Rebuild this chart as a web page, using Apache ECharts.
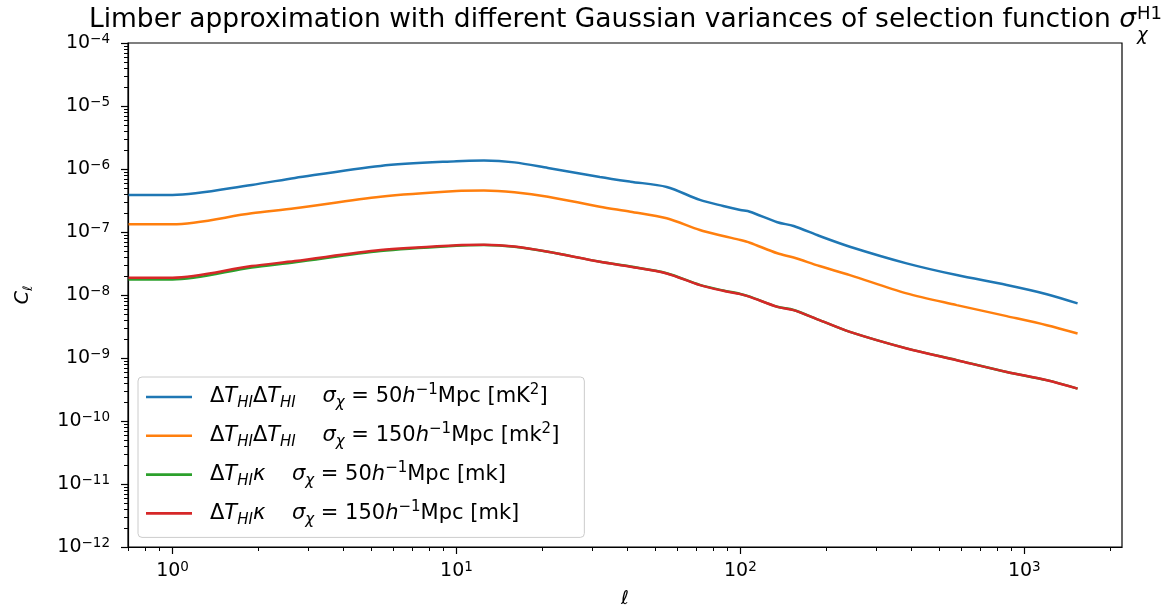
<!DOCTYPE html>
<html><head><meta charset="utf-8">
<script src="https://cdn.jsdelivr.net/npm/echarts@6/dist/echarts.min.js"></script>
<style>html,body{margin:0;padding:0;background:#fff}#c{width:1169px;height:605px}</style>
</head><body><div id="c"></div>
<script>
// multipole values
const ell = [0.7, 1, 1.9, 2.7, 5.4, 10, 12.5, 16, 21, 32, 41, 55, 72, 87, 100, 108, 135, 154, 190, 243, 385, 578, 867, 1200, 1540];
// Delta T_HI Delta T_HI, sigma_chi = 50 h^-1 Mpc [mK^2]
const clTT50 = [3.87e-7, 3.87e-7, 5.59e-7, 7.22e-7, 1.12e-6, 1.33e-6, 1.36e-6, 1.274e-6, 1.04e-6, 7.49e-7, 6.30e-7, 5.19e-7, 3.23e-7, 2.59e-7, 2.24e-7, 2.10e-7, 1.43e-7, 1.245e-7, 8.64e-8, 5.84e-8, 3.18e-8, 2.07e-8, 1.44e-8, 1.03e-8, 7.35e-9];
// Delta T_HI Delta T_HI, sigma_chi = 150 h^-1 Mpc [mk^2]
const clTT150 = [1.326e-7, 1.326e-7, 1.98e-7, 2.38e-7, 3.64e-7, 4.49e-7, 4.57e-7, 4.28e-7, 3.64e-7, 2.52e-7, 2.10e-7, 1.65e-7, 1.076e-7, 8.64e-8, 7.46e-8, 6.76e-8, 4.59e-8, 3.93e-8, 2.88e-8, 2.07e-8, 1.06e-8, 6.91e-9, 4.62e-9, 3.32e-9, 2.45e-9];
// Delta T_HI kappa, sigma_chi = 50 h^-1 Mpc [mk]
const clTk50 = [1.757e-8, 1.757e-8, 2.73e-8, 3.30e-8, 5.0e-8, 6.07e-8, 6.2e-8, 5.85e-8, 4.84e-8, 3.37e-8, 2.83e-8, 2.22e-8, 1.45e-8, 1.18e-8, 1.04e-8, 9.40e-9, 6.5e-9, 5.78e-9, 4.0e-9, 2.6e-9, 1.42e-9, 9.25e-10, 6.0e-10, 4.45e-10, 3.27e-10];
// Delta T_HI kappa, sigma_chi = 150 h^-1 Mpc [mk]
const clTk150 = [1.877e-8, 1.877e-8, 2.88e-8, 3.46e-8, 5.17e-8, 6.15e-8, 6.26e-8, 5.88e-8, 4.86e-8, 3.37e-8, 2.81e-8, 2.20e-8, 1.437e-8, 1.166e-8, 1.033e-8, 9.36e-9, 6.49e-9, 5.75e-9, 3.99e-9, 2.60e-9, 1.416e-9, 9.23e-10, 6.01e-10, 4.44e-10, 3.27e-10];

const seriesNames = [
  'ΔT_HI ΔT_HI  σ_χ = 50h^-1 Mpc [mK^2]',
  'ΔT_HI ΔT_HI  σ_χ = 150h^-1 Mpc [mk^2]',
  'ΔT_HI κ  σ_χ = 50h^-1 Mpc [mk]',
  'ΔT_HI κ  σ_χ = 150h^-1 Mpc [mk]'
];
const legendRich = [
  '{n|Δ}{i|T}{sb|HI}{n|Δ}{i|T}{sb|HI}{n|    }{i|σ}{sb|χ}{n| = 50}{i|h}{sp|−1}{n|Mpc [mK}{sp|2}{n|]}',
  '{n|Δ}{i|T}{sb|HI}{n|Δ}{i|T}{sb|HI}{n|    }{i|σ}{sb|χ}{n| = 150}{i|h}{sp|−1}{n|Mpc [mk}{sp|2}{n|]}',
  '{n|Δ}{i|T}{sb|HI}{i|κ}{n|    }{i|σ}{sb|χ}{n| = 50}{i|h}{sp|−1}{n|Mpc [mk]}',
  '{n|Δ}{i|T}{sb|HI}{i|κ}{n|    }{i|σ}{sb|χ}{n| = 150}{i|h}{sp|−1}{n|Mpc [mk]}'
];
const titleMain = 'Limber approximation with different Gaussian variances of selection function ';
const colors = ['#1f77b4', '#ff7f0e', '#2ca02c', '#d62728'];
const seriesData = [clTT50, clTT150, clTk50, clTk150];

const xMajorTicks = [1, 10, 100, 1000];
const yMajorTicks = [1e-12, 1e-11, 1e-10, 1e-9, 1e-8, 1e-7, 1e-6, 1e-5, 1e-4];
const minorMult = [2, 3, 4, 5, 6, 7, 8, 9];
const xDecades = [0.1, 1, 10, 100, 1000];
const yDecades = [1e-12, 1e-11, 1e-10, 1e-9, 1e-8, 1e-7, 1e-6, 1e-5];
const xMinorTicks = [], yMinorTicks = [];
xDecades.forEach(d => minorMult.forEach(m => xMinorTicks.push(+(m * d).toPrecision(6))));
yDecades.forEach(d => minorMult.forEach(m => yMinorTicks.push(+(m * d).toPrecision(6))));

const FONT = 'DejaVu Sans';
const XMIN = 0.697, XMAX = 2208, YMIN = 1e-12, YMAX = 1e-4;
const GRID = {left: 128, right: 47, top: 43, bottom: 58};
const W = 1169;

// title layout (centered over the axes, matplotlib style)
const TFS = 26.5, TSFS = 18;
const mctx = document.createElement('canvas').getContext('2d');
mctx.font = TFS + 'px "' + FONT + '"';
const wMain = mctx.measureText(titleMain).width;
mctx.font = 'italic ' + TFS + 'px "' + FONT + '"';
const wSig = mctx.measureText('σ').width;
mctx.font = TSFS + 'px "' + FONT + '"';
const wH1 = mctx.measureText('H1').width;
const axCenter = GRID.left + (W - GRID.left - GRID.right) / 2;
const tLeft = axCenter - (wMain + wSig + wH1) / 2;
const tTop = 7;

function powLabel(v) {
  const e = Math.round(Math.log10(v));
  return '{b|10}{s|' + String(e).replace('-', '−') + '}';
}
const tickRich = {
  b: {fontSize: 19, fontFamily: FONT, color: '#000', lineHeight: 22},
  s: {fontSize: 13.5, fontFamily: FONT, color: '#000', lineHeight: 12, verticalAlign: 'top'}
};
const axLine = {show: true, lineStyle: {color: '#000', width: 1.2}};

const chart = echarts.init(document.getElementById('c'), null, {renderer: 'canvas'});
chart.setOption({
  animation: false,
  backgroundColor: '#fff',
  graphic: [
    {type: 'text', x: tLeft, y: tTop, style: {text: titleMain, font: TFS + 'px "' + FONT + '"', fill: '#000', verticalAlign: 'top'}},
    {type: 'text', x: tLeft + wMain, y: tTop, style: {text: 'σ', font: 'italic ' + TFS + 'px "' + FONT + '"', fill: '#000', verticalAlign: 'top'}},
    {type: 'text', x: tLeft + wMain + wSig + 1, y: tTop - 2, style: {text: 'H1', font: TSFS + 'px "' + FONT + '"', fill: '#000', verticalAlign: 'top'}},
    {type: 'text', x: tLeft + wMain + wSig + 1, y: tTop + 19, style: {text: 'χ', font: 'italic ' + TSFS + 'px "' + FONT + '"', fill: '#000', verticalAlign: 'top'}}
  ],
  grid: {left: GRID.left, right: GRID.right, top: GRID.top, bottom: GRID.bottom, containLabel: false, outerBoundsMode: 'none',
         show: true, borderColor: '#000', borderWidth: 1.2, backgroundColor: 'transparent'},
  legend: {
    orient: 'vertical', left: 138, top: 377,
    backgroundColor: 'rgba(255,255,255,0.8)', borderColor: '#cccccc', borderWidth: 1, borderRadius: 4,
    padding: [6, 25, 10, 8],
    icon: 'rect', itemWidth: 46, itemHeight: 2.6, itemGap: 10.8,
    data: seriesNames,
    formatter: name => legendRich[seriesNames.indexOf(name)],
    textStyle: {
      padding: [0, 0, 0, 13],
      rich: {
        n: {fontSize: 21, fontFamily: FONT, color: '#000', lineHeight: 28},
        i: {fontSize: 21, fontFamily: FONT, fontStyle: 'italic', color: '#000', lineHeight: 28},
        sb: {fontSize: 15, fontFamily: FONT, fontStyle: 'italic', color: '#000', lineHeight: 15, verticalAlign: 'bottom'},
        sp: {fontSize: 15, fontFamily: FONT, color: '#000', lineHeight: 15, verticalAlign: 'top'}
      }
    }
  },
  xAxis: [{
    type: 'log', logBase: 10, min: XMIN, max: XMAX, position: 'bottom',
    axisLine: axLine,
    axisTick: {show: true, customValues: xMajorTicks, length: 7, lineStyle: {color: '#000', width: 1.2}},
    axisLabel: {customValues: xMajorTicks, formatter: powLabel, rich: tickRich, margin: 13},
    splitLine: {show: false}, minorTick: {show: false},
    name: '{l|ℓ}', nameLocation: 'middle', nameGap: 43,
    nameTextStyle: {rich: {l: {fontSize: 19, fontFamily: FONT, fontStyle: 'italic', color: '#000'}}}
  }, {
    type: 'log', logBase: 10, min: XMIN, max: XMAX, position: 'bottom', gridIndex: 0,
    axisLine: {show: false},
    axisTick: {show: true, customValues: xMinorTicks, length: 4, lineStyle: {color: '#000', width: 1}},
    axisLabel: {show: false}, splitLine: {show: false}
  }],
  yAxis: [{
    type: 'log', logBase: 10, min: YMIN, max: YMAX, position: 'left',
    axisLine: axLine,
    axisTick: {show: true, customValues: yMajorTicks, length: 7, lineStyle: {color: '#000', width: 1.2}},
    axisLabel: {customValues: yMajorTicks, formatter: powLabel, rich: tickRich, margin: 18},
    splitLine: {show: false}, minorTick: {show: false},
    name: '{c|C}{s|ℓ}', nameLocation: 'middle', nameGap: 93, nameRotate: 90,
    nameTextStyle: {rich: {
      c: {fontSize: 19, fontFamily: FONT, fontStyle: 'italic', color: '#000', lineHeight: 24},
      s: {fontSize: 13, fontFamily: FONT, fontStyle: 'italic', color: '#000', lineHeight: 13, verticalAlign: 'bottom'}
    }}
  }, {
    type: 'log', logBase: 10, min: YMIN, max: YMAX, position: 'left', gridIndex: 0,
    axisLine: {show: false},
    axisTick: {show: true, customValues: yMinorTicks, length: 4, lineStyle: {color: '#000', width: 1}},
    axisLabel: {show: false}, splitLine: {show: false}
  }],
  series: seriesData.map((arr, k) => ({
    name: seriesNames[k], type: 'line', xAxisIndex: 0, yAxisIndex: 0,
    data: ell.map((x, j) => [x, arr[j]]),
    showSymbol: false, symbol: 'none', smooth: 0.3,
    lineStyle: {color: colors[k], width: 2.5}, itemStyle: {color: colors[k]},
    z: 2 + k
  }))
});
</script>
</body></html>
